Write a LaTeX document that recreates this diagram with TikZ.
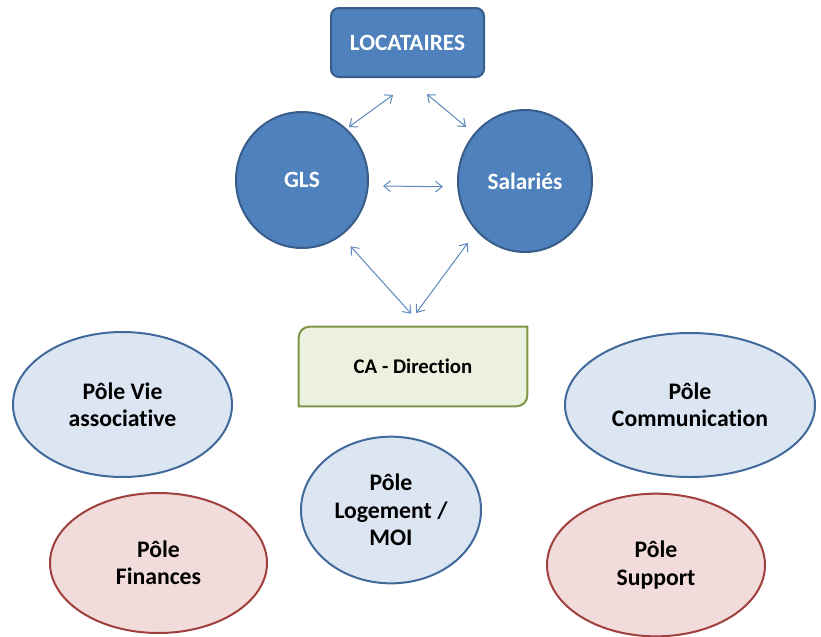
\documentclass[tikz,border=0pt]{standalone}
\usepackage{fontspec}
\setmainfont{Carlito}[Ligatures=NoCommon]
\usepackage{tikz}
\usetikzlibrary{shapes,arrows.meta,shapes.geometric,backgrounds}
\usetikzlibrary{positioning}

\definecolor{bleu}{HTML}{4F81BD}
\definecolor{bleufonce}{HTML}{385D8A}
\definecolor{bleuclair}{HTML}{DCE6F2}
\definecolor{bordbleu}{HTML}{41699B}
\definecolor{rose}{HTML}{F2DCDB}
\definecolor{bordrose}{HTML}{A0403E}
\definecolor{vert}{HTML}{EBF1DE}
\definecolor{bordvert}{HTML}{7E9446}
\definecolor{fleche}{HTML}{5E88BC}

\begin{document}
\begin{tikzpicture}[x=0.75pt,y=-0.75pt,
		acteur/.style={ellipse,draw=bleufonce,fill=bleu,line width=1.5pt,text=white,inner sep=0pt,font=\fontsize{17.5}{20}\selectfont\bfseries},
		pole/.style={ellipse,draw=bordbleu,fill=bleuclair,line width=1.5pt,inner sep=0pt,align=center,font=\fontsize{17.8}{20.5}\selectfont\bfseries},
		polerose/.style={pole,draw=bordrose,fill=rose},
		lien/.style={draw=fleche,line width=0.75pt,>={Straight Barb[length=5pt,width=8pt]},<->}]
		\useasboundingbox (0,0) rectangle (821,636);
		\def\r{8pt}
		% acteurs
		\node[rectangle,rounded corners=6pt,draw=bleufonce,fill=bleu,line width=1.5pt,text=white,
			minimum width=114.75pt,minimum height=51.75pt,font=\fontsize{17.5}{20}\selectfont\bfseries] (loc) at (407.5,42.5) {LOCATAIRES};
		\node[acteur,minimum width=99pt,minimum height=102pt] (gls) at (302,180) {GLS};
		\node[acteur,minimum width=100.5pt,minimum height=106.5pt] (sal) at (525,181) {Salariés};
		% direction
		\node[minimum width=171pt,minimum height=59.25pt,font=\fontsize{15.6}{18}\selectfont\bfseries] (ca) at (413,366.5) {CA - Direction};
		\begin{scope}[on background layer]
			\filldraw[fill=vert,draw=bordvert,line width=1.5pt] (ca.south west) -- ([yshift=-\r]ca.north west)
				arc[start angle=180,end angle=90,radius=\r] -- (ca.north east) -- ([yshift=\r]ca.south east)
				arc[start angle=0,end angle=-90,radius=\r] -- cycle;
		\end{scope}
		% poles
		\node[pole,minimum width=164.25pt,minimum height=108.75pt] (vie) at (122.5,404.5) {Pôle Vie\\associative};
		\node[pole,minimum width=187.5pt,minimum height=108pt] (com) at (690,405) {Pôle\\Communication};
		\node[pole,minimum width=135pt,minimum height=110pt] (log) at (391,510) {Pôle\\Logement /\\MOI};
		\node[polerose,minimum width=162.75pt,minimum height=105pt] (fin) at (158.5,563) {Pôle\\Finances};
		\node[polerose,minimum width=163.5pt,minimum height=107pt] (sup) at (656,565) {Pôle\\Support};
		% liens
		\draw[lien,shorten <=2pt,shorten >=21.5pt] (gls.49) -- (loc.-76);
		\draw[lien,shorten <=19pt,shorten >=7.7pt] (loc.south) -- (sal.137);
		\draw[lien,shorten <=10.7pt,shorten >=10.7pt] (gls.-5) -- (sal.185);
		\draw[lien,shorten <=10.5pt,shorten >=13.3pt] (gls.-55) -- (ca.76);
		\draw[lien,shorten <=10.8pt,shorten >=12.8pt] (sal.-134) -- (ca.100);
	\end{tikzpicture}
\end{document}
